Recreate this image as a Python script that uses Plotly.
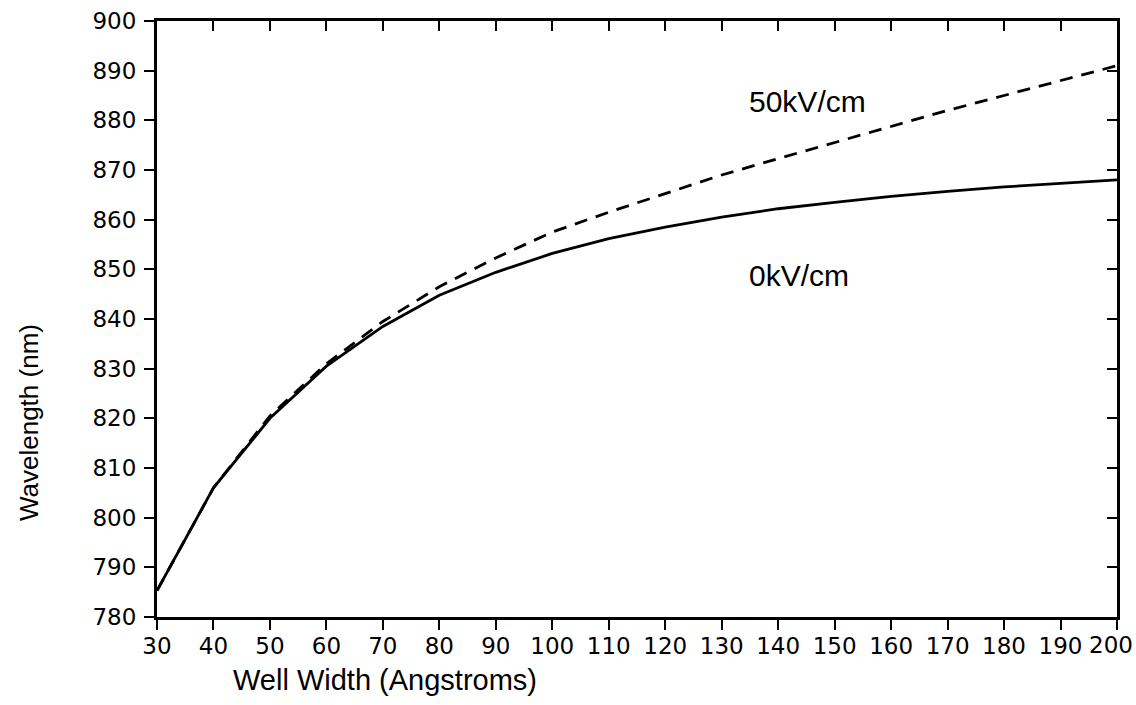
import plotly.graph_objects as go

well_width = [30, 40, 50, 60, 70, 80, 90, 100, 110, 120, 130, 140, 150, 160, 170, 180, 190, 200]
wl_0kv = [785.3, 806.0, 820.0, 830.5, 838.5, 844.8, 849.4, 853.2, 856.2, 858.5, 860.5, 862.2,
          863.5, 864.7, 865.7, 866.6, 867.3, 868.0]
wl_50kv = [785.3, 806.0, 820.5, 831.0, 839.5, 846.5, 852.3, 857.5, 861.5, 865.3, 869.0, 872.3,
           875.5, 878.8, 882.0, 885.0, 888.0, 891.0]
x_ticks = list(range(30, 201, 10))
x_tick_labels = [str(v) for v in x_ticks]
y_ticks = list(range(780, 901, 10))
labels = ["50kV/cm", "0kV/cm"]
label_x = [134.5, 134.5]
label_y = [883.8, 848.8]

fig = go.Figure()
fig.add_trace(go.Scatter(x=well_width, y=wl_0kv, mode="lines", line=dict(color="black", width=2.8),
                         showlegend=False, hoverinfo="skip"))
fig.add_trace(go.Scatter(x=well_width, y=wl_50kv, mode="lines",
                         line=dict(color="black", width=2.8, dash="13px,9px"),
                         showlegend=False, hoverinfo="skip"))
# invisible trace to activate the mirrored top/right axes
fig.add_trace(go.Scatter(x=well_width, y=wl_0kv, xaxis="x2", yaxis="y2", mode="lines",
                         opacity=0, showlegend=False, hoverinfo="skip"))

tick_font = dict(family="DejaVu Sans", size=23, color="black")
# the last x tick label sits at the right edge of the page: draw it right-aligned so it stays visible
shown_x_labels = x_tick_labels[:-1] + [""]

fig.update_layout(
    width=1136, height=705,
    margin=dict(l=157, r=19, t=21, b=88),
    paper_bgcolor="white", plot_bgcolor="white",
    xaxis=dict(range=[30, 200], tickvals=x_ticks, ticktext=shown_x_labels, ticks="outside",
               ticklen=10, tickwidth=2, tickcolor="black", showline=True, linecolor="black",
               linewidth=3, showgrid=False, zeroline=False, ticklabeloverflow="allow",
               automargin=False, ticklabelstandoff=-4, tickfont=tick_font),
    yaxis=dict(range=[780, 900], tickvals=y_ticks, ticks="outside", ticklen=10, tickwidth=2,
               tickcolor="black", showline=True, linecolor="black", linewidth=3,
               showgrid=False, zeroline=False, ticklabelstandoff=3, automargin=False,
               tickfont=tick_font),
    xaxis2=dict(range=[30, 200], tickvals=x_ticks, overlaying="x", side="top", anchor="y2",
                ticks="inside", ticklen=10, tickwidth=2, tickcolor="black", showline=True,
                linecolor="black", linewidth=3, showgrid=False, zeroline=False, showticklabels=False),
    yaxis2=dict(range=[780, 900], tickvals=y_ticks, overlaying="y", side="right", anchor="x2",
                ticks="inside", ticklen=10, tickwidth=2, tickcolor="black", showline=True,
                linecolor="black", linewidth=3, showgrid=False, zeroline=False, showticklabels=False),
)

fig.add_annotation(x=x_ticks[-1], xref="x", yref="paper", y=0, text=x_tick_labels[-1],
                   showarrow=False, xanchor="right", yanchor="top", xshift=18, yshift=-13,
                   font=tick_font)

for t, lx, ly in zip(labels, label_x, label_y):
    fig.add_annotation(x=lx, y=ly, text=t, showarrow=False, xanchor="left", yanchor="middle",
                       font=dict(family="Liberation Sans", size=30, color="black"))

fig.add_annotation(xref="paper", yref="paper", x=0.2375, y=-0.1057, text="Well Width (Angstroms)",
                   showarrow=False, xanchor="center", yanchor="middle",
                   font=dict(family="Liberation Sans", size=29, color="black"))
fig.add_annotation(xref="paper", yref="paper", x=-0.1333, y=0.3255, text="Wavelength (nm)",
                   showarrow=False, textangle=-90, xanchor="center", yanchor="middle",
                   font=dict(family="Liberation Sans", size=26, color="black"))

fig.write_html("out.html")
